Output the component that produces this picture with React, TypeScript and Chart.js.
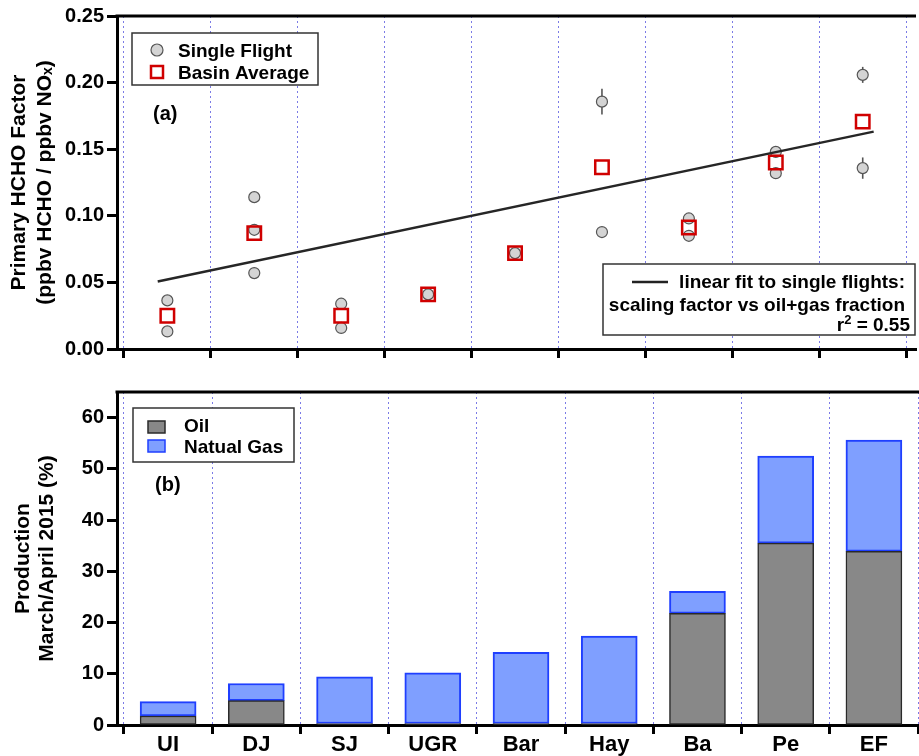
import React, { useEffect, useRef } from 'react';
import { Chart, registerables } from 'chart.js';

Chart.register(...registerables);

// ---------------- data ----------------
const basins = ['UI', 'DJ', 'SJ', 'UGR', 'Bar', 'Hay', 'Ba', 'Pe', 'EF'];

// single flights: basin index (1-based), value, error
const flightBasin = [1, 1, 2, 2, 2, 3, 3, 4, 5, 6, 6, 7, 7, 8, 8, 9, 9];
const flightValues = [0.0365, 0.0132, 0.114, 0.0895, 0.057, 0.034, 0.0158, 0.041, 0.072, 0.1857, 0.0878, 0.098, 0.085, 0.148, 0.132, 0.2058, 0.1358];
const flightErrors = [0, 0, 0, 0, 0, 0, 0, 0, 0, 0.0096, 0, 0, 0, 0, 0, 0.006, 0.008];

const basinAverage = [0.025, 0.087, 0.025, 0.041, 0.072, 0.1365, 0.0912, 0.14, 0.1707];

const fitX = [0.889, 9.126];
const fitY = [0.0507, 0.1632];

const oilShare = [1.75, 4.75, 0.3, 0.3, 0.3, 0.3, 21.8, 35.5, 33.9];
const gasShare = [2.8, 3.35, 9.1, 9.9, 13.9, 17.05, 4.3, 17.0, 21.7];

const topTicks = [0, 0.05, 0.1, 0.15, 0.2, 0.25];
const bottomTicks = [0, 10, 20, 30, 40, 50, 60];

// ---------------- style ----------------
const FONT = '"Liberation Sans", Arial, Helvetica, sans-serif';
const X_MIN = 0.4207;
const X_MAX = 9.613;
const GRID_BLUE = '#7b7be6';

const xTickValues: number[] = [];
for (let i = 0; i <= basins.length; i++) {
  xTickValues.push(i + 0.5);
  if (i < basins.length) xTickValues.push(i + 1);
}

const isCenter = (c: any) => c && c.tick && Number.isInteger(c.tick.value);

function xAxis(showLabels: boolean, height: number, stacked: boolean): any {
  return {
    type: 'linear',
    min: X_MIN,
    max: X_MAX,
    offset: false,
    stacked,
    afterBuildTicks: (s: any) => {
      s.ticks = xTickValues.map((v) => ({ value: v }));
    },
    afterFit: (s: any) => {
      s.height = height;
    },
    ticks: {
      autoSkip: false,
      maxRotation: 0,
      minRotation: 0,
      padding: -0.5,
      color: '#000',
      font: { family: FONT, size: 22, weight: 'bold', lineHeight: 1.0 },
      callback: (v: number) => (showLabels && Number.isInteger(v) ? basins[v - 1] : ''),
    },
    grid: {
      offset: false,
      color: (c: any) => (isCenter(c) ? 'rgba(0,0,0,0)' : GRID_BLUE),
      lineWidth: 1,
      drawTicks: true,
      tickLength: 9,
      tickWidth: 3,
      tickColor: (c: any) => (isCenter(c) ? 'rgba(0,0,0,0)' : '#000'),
    },
    border: { display: true, color: '#000', width: 3, dash: [2, 3] },
  };
}

function yAxis(min: number, max: number, ticks: number[], fmt: (v: number) => string, title: string[], pad: number, lh: number, stacked: boolean): any {
  return {
    type: 'linear',
    min,
    max,
    stacked,
    afterBuildTicks: (s: any) => {
      s.ticks = ticks.map((v) => ({ value: v }));
    },
    afterFit: (s: any) => {
      s.width = 117;
    },
    ticks: {
      padding: 3,
      color: '#000',
      font: { family: FONT, size: 20, weight: 'bold' },
      callback: (v: number) => fmt(v),
    },
    grid: {
      drawOnChartArea: false,
      drawTicks: true,
      tickLength: 10,
      tickWidth: 3,
      color: 'rgba(0,0,0,0)',
      tickColor: '#000',
    },
    border: { display: true, color: '#000', width: 3 },
    title: {
      display: true,
      text: title,
      color: '#000',
      font: { family: FONT, size: 21, weight: 'bold', lineHeight: lh },
      padding: { top: pad, bottom: 0 },
    },
  };
}

const errorBarsPlugin = {
  id: 'errorBars',
  beforeDatasetsDraw(chart: any) {
    const { ctx, scales } = chart;
    const x = scales.x;
    const y = scales.y;
    ctx.save();
    ctx.strokeStyle = '#555';
    ctx.lineWidth = 1.6;
    flightValues.forEach((v, i) => {
      const e = flightErrors[i];
      if (!e) return;
      const px = x.getPixelForValue(flightBasin[i]);
      ctx.beginPath();
      ctx.moveTo(px, y.getPixelForValue(v - e));
      ctx.lineTo(px, y.getPixelForValue(v + e));
      ctx.stroke();
    });
    ctx.restore();
  },
};

function topSpine(ctx: CanvasRenderingContext2D, a: any) {
  ctx.strokeStyle = '#000';
  ctx.lineWidth = 3;
  ctx.beginPath();
  ctx.moveTo(a.left - 1.5, a.top);
  ctx.lineTo(a.right, a.top);
  ctx.stroke();
}

function box(ctx: CanvasRenderingContext2D, x: number, y: number, w: number, h: number) {
  ctx.fillStyle = '#fff';
  ctx.fillRect(x, y, w, h);
  ctx.strokeStyle = '#333';
  ctx.lineWidth = 1.5;
  ctx.strokeRect(x, y, w, h);
}

const topDecor = {
  id: 'topDecor',
  afterDraw(chart: any) {
    const { ctx, chartArea } = chart;
    ctx.save();
    topSpine(ctx, chartArea);
    // legend
    box(ctx, 132, 33, 186, 52);
    ctx.beginPath();
    ctx.arc(157, 50, 6, 0, Math.PI * 2);
    ctx.fillStyle = '#d4d4d4';
    ctx.fill();
    ctx.strokeStyle = '#555';
    ctx.lineWidth = 1.2;
    ctx.stroke();
    ctx.strokeStyle = '#d00000';
    ctx.lineWidth = 2.5;
    ctx.strokeRect(151, 66, 12, 12);
    ctx.fillStyle = '#000';
    ctx.font = `bold 19px ${FONT}`;
    ctx.textAlign = 'left';
    ctx.textBaseline = 'alphabetic';
    ctx.fillText('Single Flight', 178, 57);
    ctx.fillText('Basin Average', 178, 79);
    // panel label
    ctx.font = `bold 20px ${FONT}`;
    ctx.fillText('(a)', 153, 120);
    // fit legend
    box(ctx, 603, 264, 312, 71);
    ctx.strokeStyle = '#222';
    ctx.lineWidth = 2.5;
    ctx.beginPath();
    ctx.moveTo(632, 282);
    ctx.lineTo(668, 282);
    ctx.stroke();
    ctx.fillStyle = '#000';
    ctx.font = `bold 19px ${FONT}`;
    ctx.textAlign = 'right';
    ctx.fillText('linear fit to single flights:', 905, 288);
    ctx.fillText('scaling factor vs oil+gas fraction', 905, 310.5);
    const rest = ' = 0.55';
    const wRest = ctx.measureText(rest).width;
    ctx.fillText(rest, 910, 331);
    ctx.font = `bold 13px ${FONT}`;
    const w2 = ctx.measureText('2').width;
    ctx.fillText('2', 910 - wRest, 324);
    ctx.font = `bold 19px ${FONT}`;
    ctx.fillText('r', 910 - wRest - w2, 331);
    ctx.restore();
  },
};

const bottomDecor = {
  id: 'bottomDecor',
  afterDraw(chart: any) {
    const { ctx, chartArea } = chart;
    ctx.save();
    topSpine(ctx, chartArea);
    box(ctx, 133, 33, 161, 54);
    ctx.lineWidth = 1.5;
    ctx.fillStyle = '#888888';
    ctx.fillRect(148, 46, 17, 12);
    ctx.strokeStyle = '#2a2a2a';
    ctx.strokeRect(148, 46, 17, 12);
    ctx.fillStyle = '#7f9fff';
    ctx.fillRect(148, 65, 17, 12);
    ctx.strokeStyle = '#1f3fff';
    ctx.strokeRect(148, 65, 17, 12);
    ctx.fillStyle = '#000';
    ctx.font = `bold 19px ${FONT}`;
    ctx.textAlign = 'left';
    ctx.textBaseline = 'alphabetic';
    ctx.fillText('Oil', 184, 57);
    ctx.fillText('Natual Gas', 184, 78);
    ctx.font = `bold 20px ${FONT}`;
    ctx.fillText('(b)', 155, 116);
    ctx.restore();
  },
};

function topConfig(): any {
  return {
    type: 'scatter',
    data: {
      datasets: [
        {
          label: 'linear fit',
          data: fitX.map((x, i) => ({ x, y: fitY[i] })),
          showLine: true,
          borderColor: '#262626',
          borderWidth: 2.5,
          pointRadius: 0,
          order: 0,
        },
        {
          label: 'Basin Average',
          data: basinAverage.map((v, i) => ({ x: i + 1, y: v })),
          pointStyle: 'rect',
          pointRadius: 9.5,
          pointBorderWidth: 2.5,
          pointBorderColor: '#d00000',
          pointBackgroundColor: 'rgba(0,0,0,0)',
          order: 1,
        },
        {
          label: 'Single Flight',
          data: flightValues.map((v, i) => ({ x: flightBasin[i], y: v })),
          pointStyle: 'circle',
          pointRadius: 5.5,
          pointBorderWidth: 1.2,
          pointBorderColor: '#555555',
          pointBackgroundColor: '#d4d4d4',
          order: 2,
        },
      ],
    },
    options: {
      responsive: false,
      animation: false,
      devicePixelRatio: 1,
      layout: { padding: { top: 16, left: 0, right: 0, bottom: 0 } },
      plugins: { legend: { display: false }, tooltip: { enabled: false }, title: { display: false } },
      scales: {
        x: xAxis(false, 26, false),
        y: yAxis(0, 0.25, topTicks, (v) => v.toFixed(2), ['Primary HCHO Factor', '(ppbv HCHO / ppbv NOₓ)'], 6.5, 1.24, false),
      },
    },
    plugins: [errorBarsPlugin, topDecor],
  };
}

function bottomConfig(): any {
  return {
    type: 'bar',
    data: {
      datasets: [
        {
          label: 'Oil',
          data: oilShare.map((v, i) => ({ x: i + 1, y: v })),
          backgroundColor: '#888888',
          borderColor: '#2a2a2a',
          borderWidth: 1.5,
          borderSkipped: false,
          barThickness: 56,
        },
        {
          label: 'Natual Gas',
          data: gasShare.map((v, i) => ({ x: i + 1, y: v })),
          backgroundColor: '#7f9fff',
          borderColor: '#1f3fff',
          borderWidth: 2,
          borderSkipped: false,
          barThickness: 56,
        },
      ],
    },
    options: {
      responsive: false,
      animation: false,
      devicePixelRatio: 1,
      layout: { padding: { top: 17, left: 0, right: 0, bottom: 0 } },
      plugins: { legend: { display: false }, tooltip: { enabled: false }, title: { display: false } },
      scales: {
        x: xAxis(true, 31, true),
        y: yAxis(0, 65, bottomTicks, (v) => String(v), ['Production', 'March/April 2015 (%)'], 11.5, 1.12, true),
      },
    },
    plugins: [bottomDecor],
  };
}

export default function App() {
  const topRef = useRef<HTMLCanvasElement>(null);
  const botRef = useRef<HTMLCanvasElement>(null);
  useEffect(() => {
    const c1 = new Chart(topRef.current as HTMLCanvasElement, topConfig());
    const c2 = new Chart(botRef.current as HTMLCanvasElement, bottomConfig());
    return () => {
      c1.destroy();
      c2.destroy();
    };
  }, []);
  return (
    <div style={{ position: 'fixed', left: 0, top: 0, width: 919, height: 756, overflow: 'hidden', background: '#fff' }}>
      <canvas ref={topRef} width={928} height={375} style={{ position: 'absolute', left: 0, top: 0, width: 928, height: 375 }} />
      <canvas ref={botRef} width={928} height={381} style={{ position: 'absolute', left: 0, top: 375, width: 928, height: 381 }} />
    </div>
  );
}
